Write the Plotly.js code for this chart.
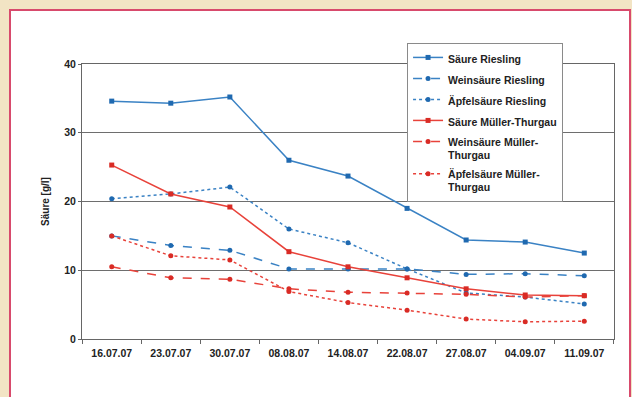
<!DOCTYPE html>
<html>
<head>
<meta charset="utf-8">
<script src="https://cdn.plot.ly/plotly-3.0.1.min.js"></script>
<style>html,body{margin:0;padding:0;background:#f2e4c4;}#chart{width:632px;height:397px;}</style>
</head>
<body>
<div id="chart"></div>
<script>
const dates = ["16.07.07","23.07.07","30.07.07","08.08.07","14.08.07","22.08.07","27.08.07","04.09.07","11.09.07"];
const saeureRiesling      = [34.6, 34.3, 35.2, 26.0, 23.7, 19.0, 14.4, 14.1, 12.5];
const weinsaeureRiesling  = [15.0, 13.6, 12.9, 10.2, 10.2, 10.2, 9.4, 9.5, 9.2];
const aepfelsaeureRiesling= [20.4, 21.1, 22.1, 16.0, 14.0, 10.2, 6.7, 6.1, 5.1];
const saeureMT            = [25.3, 21.1, 19.2, 12.7, 10.5, 8.9, 7.3, 6.4, 6.3];
const weinsaeureMT        = [10.5, 8.9, 8.7, 7.3, 6.8, 6.7, 6.5, 6.1, 6.3];
const aepfelsaeureMT      = [15.0, 12.1, 11.5, 6.9, 5.3, 4.2, 2.9, 2.5, 2.6];
const seriesNames = ["Säure Riesling","Weinsäure Riesling","Äpfelsäure Riesling","Säure Müller-Thurgau","Weinsäure Müller-<br>Thurgau","Äpfelsäure Müller-<br>Thurgau"];

const blue = '#3a82c4', blueM = '#1f69b0';
const red = '#e8423a', redM = '#d92b25';
function tr(y, name, color, mcolor, dash, sym, g){
  return {x: dates, y: y, name: name, type:'scatter', mode:'lines+markers',
    legendgroup: g,
    line:{color:color, width:1.5, dash:dash},
    marker:{color:mcolor, size:5, symbol:sym}};
}
const data = [
  tr(saeureRiesling, seriesNames[0], blue, blueM, 'solid', 'square', 'a'),
  tr(weinsaeureRiesling, seriesNames[1], blue, blueM, 'dash', 'circle', 'b'),
  tr(aepfelsaeureRiesling, seriesNames[2], blue, blueM, 'dot', 'circle', 'c'),
  tr(saeureMT, seriesNames[3], red, redM, 'solid', 'square', 'd'),
  tr(weinsaeureMT, seriesNames[4], red, redM, 'dash', 'circle', 'e'),
  tr(aepfelsaeureMT, seriesNames[5], red, redM, 'dot', 'circle', 'f')
];
const fnt = {family:'Liberation Sans, Arial, sans-serif', size:10.5, color:'#222'};
const layout = {
  width:632, height:397,
  paper_bgcolor:'#f2e4c4', plot_bgcolor:'#ffffff',
  margin:{l:82, r:18, t:64, b:58},
  font: fnt,
  showlegend:true,
  legend:{x:0.611, y:1.076, xanchor:'left', yanchor:'top',
    bgcolor:'#ffffff', bordercolor:'#8a8a8a', borderwidth:1,
    font:{family:'Liberation Sans, Arial, sans-serif', size:10.5, color:'#222', weight:'bold'},
    traceorder:'grouped', tracegroupgap:2, valign:'top'},
  xaxis:{type:'category', tickson:'boundaries', ticks:'outside', ticklen:4, tickcolor:'#666',
    showline:true, linecolor:'#666', linewidth:1, mirror:true, showgrid:false, zeroline:false,
    ticklabelstandoff:4,
    tickfont:{family:'Liberation Sans, Arial, sans-serif', size:10.5, color:'#222', weight:'bold'}},
  yaxis:{range:[0,40], dtick:10, ticks:'outside', ticklen:3, tickcolor:'#666',
    showline:true, linecolor:'#666', linewidth:1, mirror:true,
    showgrid:true, gridcolor:'#6e6e6e', gridwidth:1, zeroline:false,
    tickfont:{family:'Liberation Sans, Arial, sans-serif', size:10.5, color:'#222', weight:'bold'},
    title:{text:'Säure [g/l]', standoff:12, font:{family:'Liberation Sans, Arial, sans-serif', size:10, color:'#222', weight:'bold'}}},
  shapes:[{type:'rect', layer:'below', xref:'paper', yref:'paper',
    x0:(10-82)/532, x1:(630-82)/532, y0:(339-420)/275, y1:(339-10)/275,
    fillcolor:'#ffffff', line:{color:'#d84a6c', width:2}}]
};
Plotly.newPlot('chart', data, layout, {displayModeBar:false, staticPlot:true});
</script>
</body>
</html>
